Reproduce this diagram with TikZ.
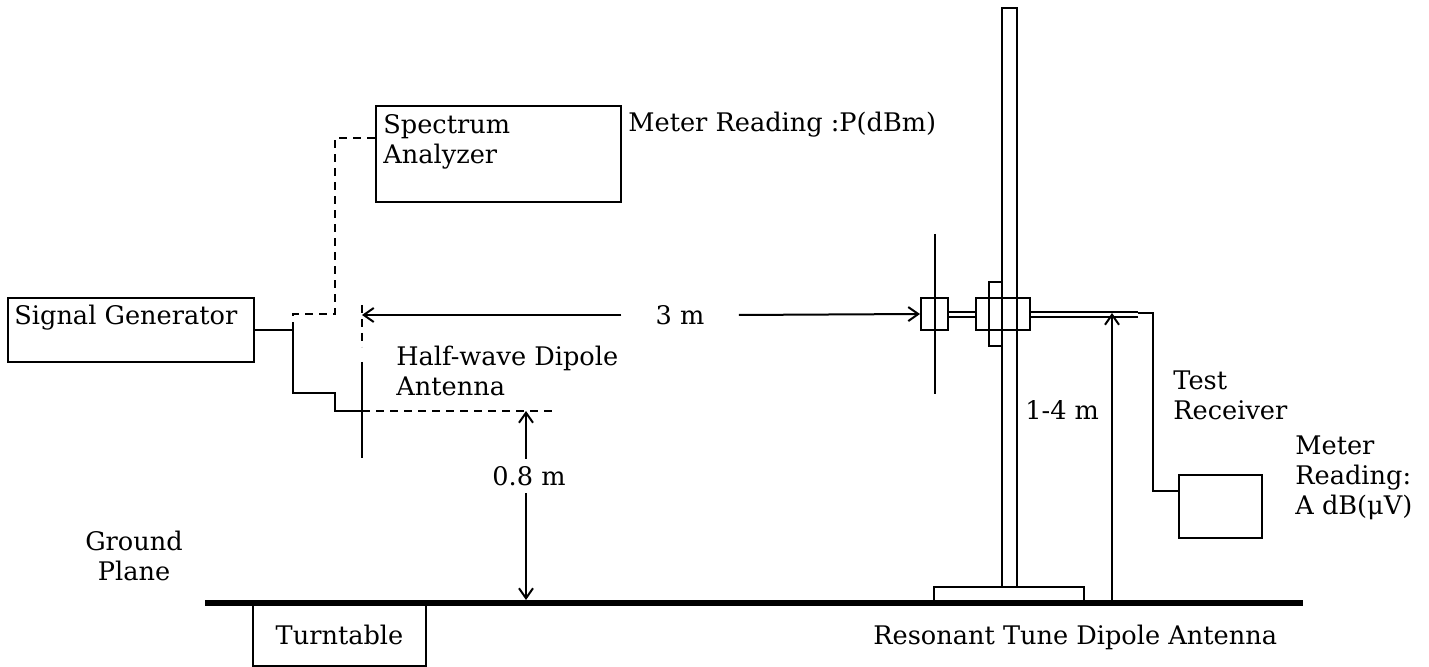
\documentclass[tikz,border=0pt]{standalone}
\usepackage{fontspec}
\setmainfont{DejaVu Serif}
\usetikzlibrary{arrows.meta}

\newcommand{\lblfont}{\fontsize{12.8pt}{15pt}\selectfont}

\tikzset{
    box/.style  = {draw, line width = 1pt, inner sep = 0pt},
    txt/.style  = {inner sep = 0pt, align = left, font = \lblfont},
    wire/.style = {line width = 1pt},
    coax/.style = {line width = 1pt, dash pattern = on 4pt off 3pt},
    dim/.style  = {line width = 1pt, -{Straight Barb[length = 5pt, width = 7pt]}},
}

\begin{document}
\begin{tikzpicture}[x = 0.5pt, y = -0.5pt]
    \useasboundingbox (0, 0) rectangle (1429, 667);

    % instruments
    \node [box, minimum width = 123pt, minimum height = 32pt] (siggen) at (131, 330) {};
    \node [txt, anchor = base west] (siggentxt) at (14, 325) {Signal Generator};
    \node [box, minimum width = 122.5pt, minimum height = 48pt] (specan) at (498.5, 154) {};
    \node [txt, anchor = north west] (specantxt) at (383, 114) {Spectrum\\Analyzer};
    \node [txt, anchor = base west] (pread) at (628, 132) {Meter Reading :P(dBm)};

    % transmitting dipole
    \coordinate (split) at (293, 330);
    \coordinate (feed)  at (362, 411);
    \draw [wire] (siggen.east) -- (split) -- (293, 393) -- (335, 393) -- (335, 411) -- (feed);
    \draw [coax] (split) -- (293, 314) -- (335, 314) |- (specan.west |- 0, 138);
    \draw [wire] (362, 362) -- (362, 458);
    \draw [coax] (362, 305) -- (362, 347);
    \draw [coax] (feed) -- (553, 411);
    \node [txt, anchor = north west] (dipoletxt) at (396, 346) {Half-wave Dipole\\Antenna};

    % mast with receiving dipole
    \node [box, minimum width = 7.5pt, minimum height = 289.5pt] (mast)  at (1009.5, 297.5) {};
    \node [box, minimum width = 75pt,  minimum height = 7pt]     (base)  at (1009, 594) {};
    \node [box, minimum width = 27pt,  minimum height = 16pt]    (hub)   at (1003, 314) {};
    \node [box, minimum width = 6.5pt, minimum height = 32pt]    (clamp) at (995.5, 314) {};
    \node [box, minimum width = 13.5pt, minimum height = 16pt]   (balun) at (934.5, 314) {};
    \draw [wire] (935, 234) -- (935, 394);

    \draw [wire] (balun.east |- 0, 312) -- (hub.west |- 0, 312);
    \draw [wire] (balun.east |- 0, 317) -- (hub.west |- 0, 317);
    \draw [wire] (hub.east |- 0, 312) -- (1138, 312);
    \draw [wire] (hub.east |- 0, 317) -- (1138, 317);
    \coordinate (cableend) at (1138, 313);

    % receiver
    \node [box, minimum width = 41.5pt, minimum height = 31.5pt] (recv) at (1220.5, 506.5) {};
    \draw [wire] (cableend) -- (1153, 313) |- (recv.west |- 0, 491);
    \node [txt, anchor = north west] (recvtxt) at (1173, 370) {Test\\Receiver};
    \node [txt, anchor = north west] (areadtxt) at (1295, 435) {Meter\\Reading:\\A dB(μV)};

    % ground plane
    \draw [line width = 2.8pt] (205, 603) coordinate (gndl) -- (1303, 603) coordinate (gndr);
    \node [box, minimum width = 86.5pt, minimum height = 31.5pt, font = \lblfont] (turn) at (339.5, 634.5) {Turntable};
    \node [txt, align = center, anchor = north] (gndtxt) at (134, 531) {Ground\\Plane};
    \node [txt, anchor = base west] (rdipoletxt) at (873, 644) {Resonant Tune Dipole Antenna};

    % distances
    \node [txt, inner xsep = 17pt] (dist) at (680, 315) {3 m};
    \draw [dim] (dist.west) -- (feed |- dist.west);
    \draw [dim] (dist.east) -- (balun.west);

    \coordinate (h08top) at (526, 411);
    \coordinate (h08bot) at (526, 600);
    \node [txt, inner ysep = 3.5pt] (h08) at (529, 476) {0.8 m};
    \draw [dim] (h08.north -| h08top) -- (h08top);
    \draw [dim] (h08.south -| h08top) -- (h08bot);

    \coordinate (h14) at (1112, 600);
    \draw [dim] (h14) -- (h14 |- cableend);
    \node [txt, anchor = base west] (h14txt) at (1025, 420) {1-4 m};
\end{tikzpicture}
\end{document}
